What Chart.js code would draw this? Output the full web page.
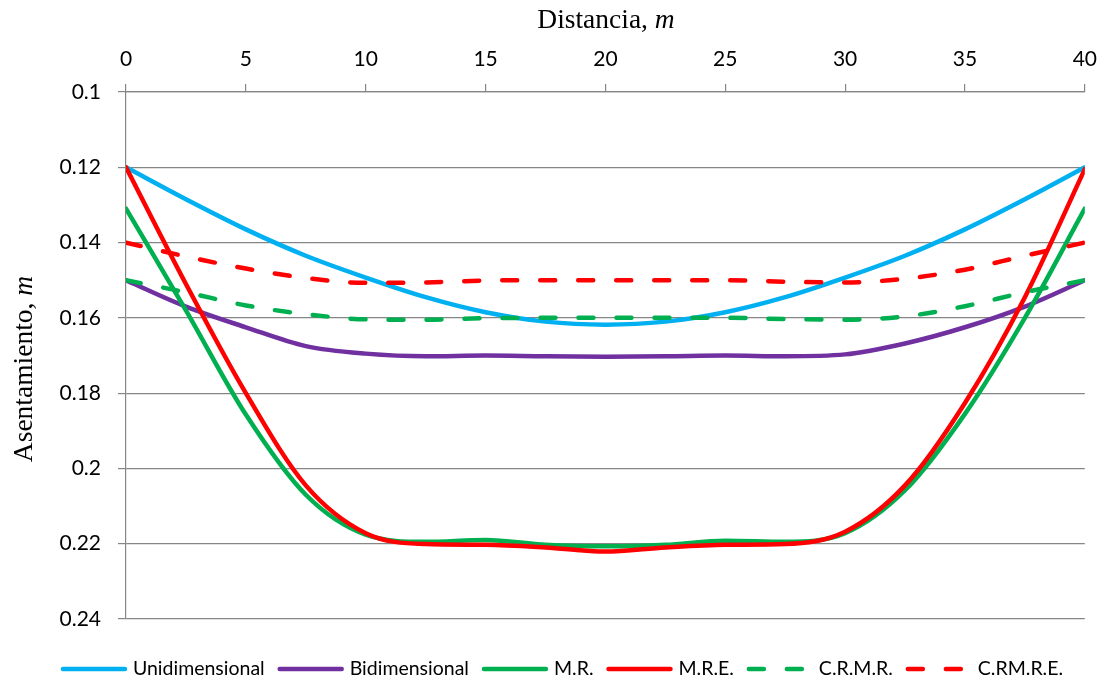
<!DOCTYPE html>
<html>
<head>
<meta charset="utf-8">
<title>Asentamiento</title>
<script src="https://cdn.jsdelivr.net/npm/chart.js@4.4.1/dist/chart.umd.min.js"></script>
<style>
    html, body { margin: 0; padding: 0; background: #ffffff; }
    #wrap { width: 1109px; height: 683px; }
</style>
</head>
<body>
<div id="wrap"><canvas id="chartAsentamiento" width="1109" height="683"></canvas></div>
<script>
// --- DATA: settlement profiles along the section ---
const distancia = [0, 2.5, 5, 7.5, 10, 12.5, 15, 17.5, 20, 22.5, 25, 27.5, 30, 32.5, 35, 37.5, 40];

const unidimensional = [0.12, 0.1285, 0.1365, 0.1435, 0.1493, 0.1545, 0.1585, 0.161, 0.1618, 0.161, 0.1585, 0.1545, 0.1493, 0.1435, 0.1365, 0.1285, 0.12];
const bidimensional  = [0.15, 0.157, 0.1625, 0.1675, 0.1695, 0.1702, 0.170, 0.1702, 0.1703, 0.1702, 0.170, 0.1702, 0.1697, 0.1668, 0.1625, 0.157, 0.15];
const mr             = [0.131, 0.158, 0.1857, 0.207, 0.2176, 0.2195, 0.219, 0.2203, 0.2207, 0.2203, 0.2192, 0.2195, 0.2172, 0.2058, 0.1855, 0.160, 0.131];
const mre            = [0.12, 0.151, 0.180, 0.2045, 0.2172, 0.2201, 0.2203, 0.221, 0.2221, 0.221, 0.2203, 0.2201, 0.2168, 0.2045, 0.1826, 0.1545, 0.1205];
const crmr           = [0.15, 0.1532, 0.1567, 0.159, 0.1604, 0.1605, 0.1601, 0.16, 0.16, 0.16, 0.16, 0.1603, 0.1605, 0.1596, 0.1569, 0.1532, 0.15];
const crmre          = [0.14, 0.1437, 0.1469, 0.1494, 0.1507, 0.1506, 0.1501, 0.15, 0.15, 0.15, 0.15, 0.1504, 0.1506, 0.1496, 0.1472, 0.1435, 0.14];

const seriesNames = ['Unidimensional', 'Bidimensional', 'M.R.', 'M.R.E.', 'C.R.M.R.', 'C.RM.R.E.'];
const seriesData  = [unidimensional, bidimensional, mr, mre, crmr, crmre];
const seriesColors = ['#00b0f0', '#7030a0', '#00b050', '#ff0000', '#00b050', '#ff0000'];
const seriesDashed = [false, false, false, false, true, true];

const xTicks = { min: 0, max: 40, step: 5 };
const yTicks = { min: 0.1, max: 0.24, step: 0.02 };

const GRID = '#868686';
const TICK_FONT = { family: 'Lato', size: 21 };

// --- helpers ---
function drawMixedText(ctx, parts, cx, y) {
    let total = 0;
    parts.forEach(p => { ctx.font = p.font; total += ctx.measureText(p.text).width; });
    let x = cx - total / 2;
    parts.forEach(p => {
        ctx.font = p.font;
        ctx.fillText(p.text, x, y);
        x += ctx.measureText(p.text).width;
    });
}

// axis titles (with the italic unit) and the bottom legend
const decorations = {
    id: 'decorations',
    afterDraw(chart) {
        const ctx = chart.ctx;
        ctx.save();
        ctx.fillStyle = '#000';
        ctx.textAlign = 'left';
        ctx.textBaseline = 'alphabetic';

        const serif = '27.5px "Liberation Serif"';
        const serifIt = 'italic 27.5px "Liberation Serif"';
        drawMixedText(ctx, [{ text: 'Distancia, ', font: serif }, { text: 'm', font: serifIt }], 606, 28);

        ctx.save();
        ctx.translate(32, 369);
        ctx.rotate(-Math.PI / 2);
        drawMixedText(ctx, [{ text: 'Asentamiento, ', font: serif }, { text: 'm', font: serifIt }], 0, 0);
        ctx.restore();

        // legend
        const lineLen = 62, capGap = 8, itemGap = 15, yMid = 669;
        ctx.font = '19.5px Lato';
        const sets = chart.data.datasets;
        let total = 0;
        sets.forEach((ds, i) => {
            total += lineLen + capGap + ctx.measureText(ds.label).width;
            if (i < sets.length - 1) total += itemGap;
        });
        let x = 563 - total / 2;
        ctx.textBaseline = 'middle';
        sets.forEach(ds => {
            ctx.beginPath();
            ctx.strokeStyle = ds.borderColor;
            ctx.lineWidth = ds.borderWidth;
            ctx.lineCap = 'round';
            ctx.setLineDash(ds.borderDash || []);
            ctx.moveTo(x, yMid);
            ctx.lineTo(x + lineLen, yMid);
            ctx.stroke();
            ctx.setLineDash([]);
            x += lineLen + capGap;
            ctx.fillText(ds.label, x, yMid);
            x += ctx.measureText(ds.label).width + itemGap;
        });
        ctx.restore();
    }
};

const datasets = seriesNames.map((name, i) => ({
    label: name,
    data: distancia.map((d, k) => ({ x: d, y: seriesData[i][k] })),
    borderColor: seriesColors[i],
    backgroundColor: seriesColors[i],
    borderWidth: 4.5,
    borderCapStyle: 'round',
    borderDash: seriesDashed[i] ? [15, 23] : [],
    pointRadius: 0,
    pointHoverRadius: 0,
    cubicInterpolationMode: 'monotone',
    fill: false,
    order: seriesNames.length - i
}));

new Chart(document.getElementById('chartAsentamiento').getContext('2d'), {
    type: 'line',
    data: { datasets },
    options: {
        responsive: false,
        animation: false,
        events: [],
        layout: { padding: { left: 0, top: 0, right: 24, bottom: 64 } },
        plugins: {
            legend: { display: false },
            tooltip: { enabled: false }
        },
        scales: {
            x: {
                type: 'linear',
                position: 'top',
                min: xTicks.min,
                max: xTicks.max,
                afterFit: (scale) => { scale.height = 92; },
                ticks: { stepSize: xTicks.step, color: '#000', font: TICK_FONT, padding: 12, maxRotation: 0 },
                grid: { drawOnChartArea: false, drawTicks: true, tickLength: 8, color: GRID, tickColor: GRID, lineWidth: 1.2 },
                border: { display: true, color: GRID, width: 1.2 }
            },
            y: {
                type: 'linear',
                reverse: true,
                min: yTicks.min,
                max: yTicks.max,
                afterFit: (scale) => { scale.width = 126; },
                ticks: {
                    stepSize: yTicks.step,
                    color: '#000',
                    font: TICK_FONT,
                    padding: 17,
                    callback: (v) => String(Number(v.toFixed(2)))
                },
                grid: { drawOnChartArea: true, drawTicks: true, tickLength: 8, color: GRID, tickColor: GRID, lineWidth: 1.2 },
                border: { display: true, color: GRID, width: 1.2 }
            }
        }
    },
    plugins: [decorations]
});
</script>
</body>
</html>
